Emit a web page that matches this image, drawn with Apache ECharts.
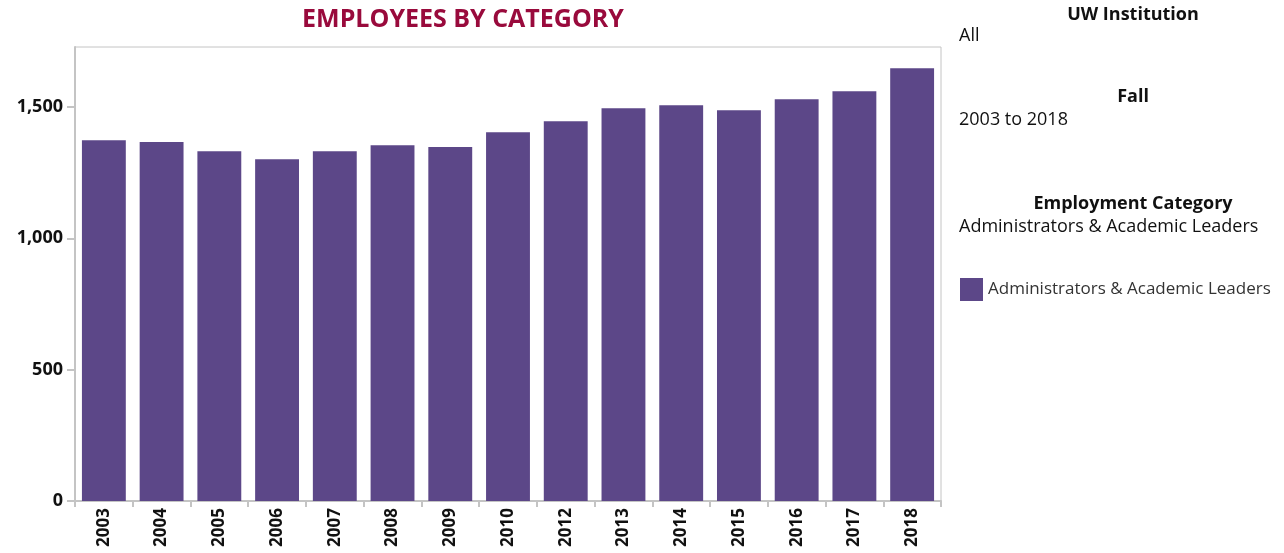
<!DOCTYPE html>
<html>
<head>
<meta charset="utf-8">
<script src="https://cdn.jsdelivr.net/npm/echarts@6/dist/echarts.min.js"></script>
<style>
  html, body { margin: 0; padding: 0; background: #fff; }
  #chart { width: 1284px; height: 553px; }
</style>
</head>
<body>
<div id="chart"></div>
<script>
const years = ['2003', '2004', '2005', '2006', '2007', '2008', '2009', '2010',
  '2012', '2013', '2014', '2015', '2016', '2017', '2018'];
const employees = [1373, 1366, 1331, 1301, 1331, 1354, 1347, 1404,
  1445, 1495, 1506, 1487, 1529, 1560, 1647];
const seriesName = 'Administrators & Academic Leaders';
const yTicks = [0, 500, 1000, 1500];

const FONT = '"Open Sans", "DejaVu Sans", sans-serif';
const BAR = '#5c4788';
const AXIS = '#c4c4c4';
const INK = '#111';

const chart = echarts.init(document.getElementById('chart'));

// filter panel on the right, drawn as plain text
const panelText = (text, x, y, bold, align) => ({
  type: 'text',
  x: x,
  y: y,
  style: {
    text: text,
    font: (bold ? 'bold ' : '') + '18px ' + FONT,
    fill: INK,
    align: align || 'left',
    verticalAlign: 'middle',
  },
});

const option = {
  animation: false,
  title: {
    text: 'EMPLOYEES BY CATEGORY',
    left: 458,
    textAlign: 'center',
    top: 2,
    textStyle: { color: '#990a3c', fontSize: 25, fontWeight: 'bold', fontFamily: FONT },
  },
  legend: {
    data: [seriesName],
    left: 955,
    top: 273,
    icon: 'rect',
    itemWidth: 23,
    itemHeight: 23,
    itemGap: 8,
    textStyle: { color: '#333', fontSize: 17, fontFamily: FONT },
  },
  grid: {
    left: 75,
    right: 343,
    top: 47,
    bottom: 52,
    show: true,
    borderColor: AXIS,
    borderWidth: 1,
  },
  xAxis: {
    type: 'category',
    data: years,
    axisLine: { lineStyle: { color: AXIS, width: 2 } },
    axisTick: { show: true, length: 6, lineStyle: { color: AXIS, width: 2 } },
    axisLabel: {
      rotate: 90,
      color: INK,
      fontSize: 17,
      fontWeight: 'bold',
      fontFamily: FONT,
      margin: 7,
    },
  },
  yAxis: {
    type: 'value',
    min: 0,
    max: 1728,
    interval: 500,
    splitLine: { show: false },
    axisLine: { show: true, lineStyle: { color: AXIS, width: 2 } },
    axisTick: { show: true, length: 8, lineStyle: { color: AXIS, width: 2 } },
    axisLabel: {
      showMaxLabel: false,
      color: INK,
      fontSize: 18,
      fontWeight: 'bold',
      fontFamily: FONT,
      margin: 12,
      formatter: (v) => (yTicks.includes(v) ? v.toLocaleString('en-US') : ''),
    },
  },
  series: [
    {
      name: seriesName,
      type: 'bar',
      data: employees,
      barCategoryGap: '24%',
      itemStyle: { color: BAR },
    },
  ],
  graphic: [
    panelText('UW Institution', 1133, 15, true, 'center'),
    panelText('All', 959, 36, false),
    panelText('Fall', 1133, 97, true, 'center'),
    panelText('2003 to 2018', 959, 120, false),
    panelText('Employment Category', 1133, 204, true, 'center'),
    panelText('Administrators & Academic Leaders', 959, 227, false),
  ],
};

chart.setOption(option);
window.addEventListener('resize', () => chart.resize());
</script>
</body>
</html>
